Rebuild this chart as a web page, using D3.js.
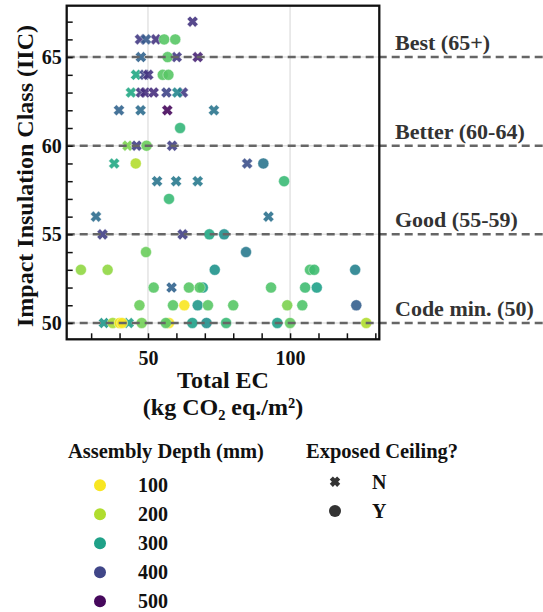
<!DOCTYPE html>
<html>
<head>
<meta charset="utf-8">
<script src="https://cdn.jsdelivr.net/npm/d3@7"></script>
<style>
  body { margin: 0; background: #fff; }
  text { font-family: "Liberation Serif", "Times New Roman", serif; font-weight: bold; }
</style>
</head>
<body>
<div id="chart"></div>
<script>
// one entry per assembly: total EC, IIC rating, depth (mm), exposed ceiling
const ecValues = [
    52.8, 57.4, 69.3, 34.5, 62.3, 65.7, 47.2, 49.3, 47.5, 60.1,
    67.5, 45.8, 48.8, 50.1, 44.0, 47.5, 49.0, 52.0, 56.5, 60.3,
    39.8, 47.4, 56.8, 73.2, 42.8, 46.0, 58.5, 38.1, 84.9, 53.2,
    59.9, 67.5, 92.4, 31.7, 34.0, 62.2, 58.3, 43.2,
    55.7, 59.6, 56.9, 55.2, 57.2, 61.3, 49.5, 45.7, 90.6, 97.9,
    57.4, 71.6, 76.8, 49.3, 84.5, 26.4, 35.8, 73.5, 107.0, 108.5,
    122.9, 52.0, 64.4, 68.2, 93.3, 105.3, 109.4, 47.0, 58.8, 62.8,
    67.5, 71.1, 80.0, 99.0, 104.3, 123.3, 37.6, 40.0, 40.9, 47.8,
    56.3, 65.6, 70.6, 77.5, 95.5, 100.0, 126.8
];
const iicValues = [
    66, 50, 52, 50, 63, 67, 66, 66, 65, 65,
    65, 64, 64, 64, 63, 63, 63, 63, 63, 63,
    62, 62, 62, 62, 60, 60, 60, 59, 59, 58,
    58, 58, 56, 56, 55, 55, 52, 50,
    66, 66, 65, 64, 64, 61, 60, 59, 59, 58,
    57, 55, 55, 54, 54, 53, 53, 53, 53, 53,
    53, 52, 52, 52, 52, 52, 52, 51, 51, 51,
    51, 51, 51, 51, 51, 51, 50, 50, 50, 50,
    50, 50, 50, 50, 50, 50, 50
];
const depthValues = [
    430, 100, 300, 310, 420, 430, 420, 380, 370, 420,
    460, 290, 400, 430, 290, 430, 440, 440, 400, 330,
    370, 360, 500, 350, 225, 410, 410, 290, 390, 350,
    345, 345, 355, 360, 410, 410, 370, 300,
    245, 245, 245, 245, 245, 270, 235, 195, 350, 265,
    265, 290, 320, 235, 345, 215, 215, 315, 255, 260,
    335, 245, 245, 245, 250, 260, 300, 235, 245, 100,
    310, 245, 245, 225, 250, 375, 205, 110, 100, 230,
    245, 300, 320, 265, 300, 240, 200
];
const exposedValues = [
    "N", "Y", "Y", "N", "N", "N", "N", "N", "N", "N",
    "N", "N", "N", "N", "N", "N", "N", "N", "N", "N",
    "N", "N", "N", "N", "N", "N", "N", "N", "N", "N",
    "N", "N", "N", "N", "N", "N", "N", "N",
    "Y", "Y", "Y", "Y", "Y", "Y", "Y", "Y", "Y", "Y",
    "Y", "Y", "Y", "Y", "Y", "Y", "Y", "Y", "Y", "Y",
    "Y", "Y", "Y", "Y", "Y", "Y", "Y", "Y", "Y", "Y",
    "Y", "Y", "Y", "Y", "Y", "Y", "Y", "Y", "Y", "Y",
    "Y", "Y", "Y", "Y", "Y", "Y", "Y"
];

const thresholdValues = [65, 60, 55, 50];
const thresholdLabels = ["Best (65+)", "Better (60-64)", "Good (55-59)", "Code min. (50)"];
const depthLegend = [100, 200, 300, 400, 500];
const exposedLegend = ["N", "Y"];
const xTickLabels = [50, 100];
const yTickLabels = [50, 55, 60, 65];

const points = ecValues.map((v, i) => ({
    ec: v, iic: iicValues[i], depth: depthValues[i], exposed: exposedValues[i]
}));

const width = 543;
const height = 612;
const plotLeft = 66.7, plotRight = 379.3, plotTop = 5.7, plotBottom = 339.3;

const svg = d3.select("#chart")
    .append("svg")
    .attr("width", width)
    .attr("height", height);

const x = d3.scaleLinear().domain([21.4, 131.4]).range([plotLeft, plotRight]);
const y = d3.scaleLinear().domain([49.08, 67.9]).range([plotBottom, plotTop]);

// viridis, stretched so the legend steps look like the original
const tScale = d3.scaleLinear()
    .domain(depthLegend)
    .range([0.99, 0.88, 0.57, 0.21, 0.02])
    .clamp(true);
const color = d => d3.interpolateViridis(tScale(d));

// thick filled "X" marker
function xMarker(L, h) {
    const a = (L + h) / Math.SQRT2, b = (L - h) / Math.SQRT2, c = h * Math.SQRT2;
    const pts = [[c, 0], [a, b], [b, a], [0, c], [-b, a], [-a, b], [-c, 0],
                 [-a, -b], [-b, -a], [0, -c], [b, -a], [a, -b]];
    return "M" + pts.map(p => p.join(",")).join("L") + "Z";
}

// grid
svg.append("g")
    .selectAll("line")
    .data(xTickLabels)
    .enter()
    .append("line")
    .attr("x1", d => x(d)).attr("x2", d => x(d))
    .attr("y1", plotTop).attr("y2", plotBottom)
    .attr("stroke", "#e3e3e3")
    .attr("stroke-width", 1.5);
svg.append("g")
    .selectAll("line")
    .data(yTickLabels)
    .enter()
    .append("line")
    .attr("x1", plotLeft).attr("x2", plotRight)
    .attr("y1", d => y(d)).attr("y2", d => y(d))
    .attr("stroke", "#e3e3e3")
    .attr("stroke-width", 1.5);

// points
svg.append("g")
    .selectAll("path")
    .data(points)
    .enter()
    .append("path")
    .attr("transform", d => "translate(" + x(d.ec) + "," + y(d.iic) + ")")
    .attr("d", d => d.exposed === "N" ? xMarker(5.7, 2.1) : d3.symbol(d3.symbolCircle, Math.PI * 5.5 * 5.5)())
    .attr("fill", d => color(d.depth))
    .attr("fill-opacity", 0.9)
    .attr("stroke", "#fff")
    .attr("stroke-width", 0.4);

// threshold lines + labels
svg.append("g")
    .selectAll("line")
    .data(thresholdValues)
    .enter()
    .append("line")
    .attr("x1", plotLeft).attr("x2", width)
    .attr("y1", d => y(d)).attr("y2", d => y(d))
    .attr("stroke", "#666")
    .attr("stroke-width", 2.5)
    .attr("stroke-dasharray", "8,5");
svg.append("g")
    .selectAll("text")
    .data(thresholdValues)
    .enter()
    .append("text")
    .attr("x", 395)
    .attr("y", d => y(d) - 7)
    .attr("fill", "#333")
    .style("font-size", "22px")
    .text((d, i) => thresholdLabels[i]);

// axes
const yAxis = svg.append("g")
    .attr("transform", "translate(" + plotLeft + ",0)")
    .call(d3.axisLeft(y)
        .tickValues(d3.range(50, 68))
        .tickSizeInner(-6).tickSizeOuter(0).tickPadding(5)
        .tickFormat(d => yTickLabels.includes(d) ? d : ""));
const xAxis = svg.append("g")
    .attr("transform", "translate(0," + plotBottom + ")")
    .call(d3.axisBottom(x)
        .tickValues(d3.range(30, 131, 10))
        .tickSizeInner(-6).tickSizeOuter(0).tickPadding(11.5)
        .tickFormat(d => xTickLabels.includes(d) ? d : ""));
[xAxis, yAxis].forEach(g => {
    g.select(".domain").remove();
    g.selectAll(".tick line").attr("stroke", "#111").attr("stroke-width", 1.5);
    g.selectAll(".tick text")
        .attr("fill", "#111")
        .style("font-size", "20px")
        .style("font-family", "Liberation Serif, serif")
        .style("font-weight", "bold");
});

svg.append("rect")
    .attr("x", plotLeft).attr("y", plotTop)
    .attr("width", plotRight - plotLeft).attr("height", plotBottom - plotTop)
    .attr("fill", "none")
    .attr("stroke", "#111")
    .attr("stroke-width", 2.3);

// axis titles
svg.append("text")
    .attr("x", (plotLeft + plotRight) / 2)
    .attr("y", 388)
    .attr("text-anchor", "middle")
    .attr("fill", "#111")
    .style("font-size", "24px")
    .text("Total EC");
svg.append("text")
    .attr("x", (plotLeft + plotRight) / 2)
    .attr("y", 415)
    .attr("text-anchor", "middle")
    .attr("fill", "#111")
    .style("font-size", "24px")
    .text("(kg CO₂ eq./m²)");
svg.append("text")
    .attr("transform", "translate(33,176) rotate(-90)")
    .attr("text-anchor", "middle")
    .attr("fill", "#111")
    .style("font-size", "24px")
    .text("Impact Insulation Class (IIC)");

// legends
svg.append("text")
    .attr("x", 68).attr("y", 458)
    .attr("fill", "#111")
    .style("font-size", "20.5px")
    .text("Assembly Depth (mm)");
const depthItems = svg.append("g")
    .selectAll("g")
    .data(depthLegend)
    .enter()
    .append("g")
    .attr("transform", (d, i) => "translate(0," + (485.3 + i * 29) + ")");
depthItems.append("circle")
    .attr("cx", 100).attr("r", 6)
    .attr("fill", d => color(d));
depthItems.append("text")
    .attr("x", 138).attr("y", 7)
    .attr("fill", "#111")
    .style("font-size", "20px")
    .text(d => d);

svg.append("text")
    .attr("x", 306).attr("y", 458)
    .attr("fill", "#111")
    .style("font-size", "20.5px")
    .text("Exposed Ceiling?");
const exposedItems = svg.append("g")
    .selectAll("g")
    .data(exposedLegend)
    .enter()
    .append("g")
    .attr("transform", (d, i) => "translate(0," + (481.7 + i * 29.3) + ")");
exposedItems.append("path")
    .attr("transform", "translate(335,0)")
    .attr("d", d => d === "N" ? xMarker(5.2, 2.2) : d3.symbol(d3.symbolCircle, Math.PI * 36)())
    .attr("fill", "#333");
exposedItems.append("text")
    .attr("x", 372).attr("y", 7)
    .attr("fill", "#111")
    .style("font-size", "20px")
    .text(d => d);
</script>
</body>
</html>
